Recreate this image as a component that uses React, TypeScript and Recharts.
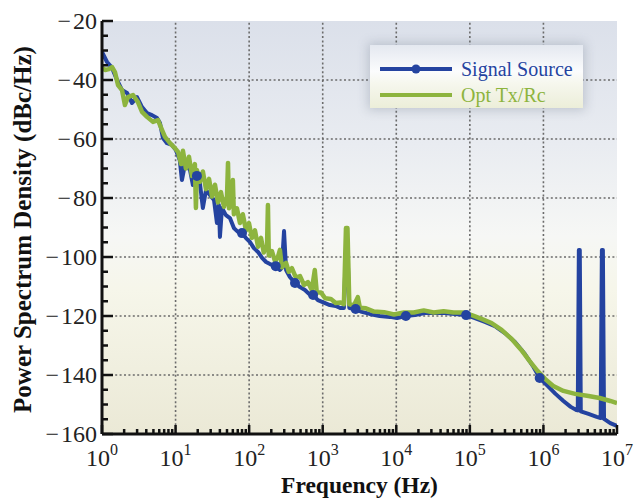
/**
 * Phase noise spectrum: signal source vs. optical Tx/Rc link.
 * Log frequency axis 1 Hz .. 10 MHz, PSD in dBc/Hz.
 */

import { LineChart, Line, XAxis, YAxis, CartesianGrid, ReferenceLine, Legend, Label } from 'recharts'

const BLUE = '#2443a0'
const GREEN = '#8db43e'
const SERIF = '"Liberation Serif", "Times New Roman", serif'

// Signal Source (blue) - frequency in Hz, PSD in dBc/Hz
const signalFreq = [
  1, 1.17, 1.37, 1.6, 1.87, 2.19, 2.56, 2.99, 3.5, 4.09, 4.78, 5.59, 6.14, 6.74, 7.64, 8.93,
  10.1, 11.4, 12.2, 13.4, 15.7, 17.2, 19.5, 21.4, 23.5, 25.9, 29.3, 33.3, 36.5, 38.8, 40.1, 42.7,
  48.3, 54.8, 62.1, 70.4, 80, 90.6, 102.7, 116, 132, 150, 170, 192, 230, 262, 278, 298, 318,
  358, 420, 492, 574, 650, 740, 860, 1000, 1250, 1500, 1750, 1940, 2070, 2170, 2300, 2800,
  3400, 4350, 5950, 8200, 10250, 13500, 17900, 24400, 33400, 45600, 62300, 89000, 117000,
  160000, 219000, 299000, 410000, 560000, 717000, 890000, 1.14e6, 1.46e6, 1.87e6, 2.35e6,
  2.8e6, 2.93e6, 3.03e6, 3.12e6, 3.22e6, 4.1e6, 5.3e6, 6.0e6, 6.23e6, 6.43e6, 6.66e6, 8.1e6, 1e7,
]
const signalPsd = [
  -30.5, -33.9, -35.9, -40.0, -43.4, -44.4, -47.8, -45.8, -49.2, -51.2, -51.9, -52.9, -54.6, -59.7, -61.4, -62.0,
  -63.7, -67.1, -73.9, -68.7, -70.5, -75.6, -72.5, -74.9, -83.4, -77.3, -79.0, -80.7, -88.5, -82.4, -93.2, -83.4,
  -85.8, -86.8, -90.2, -91.5, -91.9, -93.6, -94.9, -97.0, -98.3, -100.3, -101.7, -102.4, -103.1, -104.4, -103.7, -91.2, -104.4,
  -106.8, -108.8, -110.2, -111.2, -112.5, -112.9, -114.6, -115.3, -116.3, -116.6, -117.3, -117.3, -97.6, -97.6, -117.3, -117.6,
  -118.6, -119.3, -120.0, -120.3, -120.7, -120.0, -119.7, -119.0, -119.0, -119.0, -119.3, -119.7, -120.7,
  -122.0, -123.4, -125.8, -128.8, -132.9, -136.9, -141.0, -143.7, -146.4, -148.8, -150.8,
  -151.9, -152.0, -97.6, -97.6, -152.3, -153.2, -154.2, -154.6, -97.6, -97.6, -154.9, -156.3, -157.3,
]
// frequencies where the blue trace carries a marker
const markerFreq = [19.5, 80, 230, 420, 740, 2800, 13500, 89000, 890000]

// Opt Tx/Rc (green)
const optFreq = [
  1, 1.1, 1.24, 1.37, 1.5, 1.65, 1.87, 2.05, 2.25, 2.64, 3.08, 3.5, 4.09, 4.93, 5.77, 6.53, 7.18, 8.4, 9.8,
  10.8, 11.9, 12.6, 13.8, 15.2, 16.7, 18.3, 18.9, 19.5, 21.4, 23.5, 25.9, 28.5, 31.3, 34.3, 37.7, 41.4,
  45.5, 50, 51.6, 53.2, 58.4, 60.1, 62, 68.2, 75, 82, 90.6, 99.5, 109, 120, 132, 145, 158, 175, 180, 185,
  204, 225, 246, 262, 278, 318, 346, 381, 432, 492, 557, 630, 710, 780, 830, 945, 1080, 1290, 1500,
  1750, 1940, 2070, 2170, 2300, 2650, 3000, 3200, 3870, 4980, 6820, 9300, 12700, 17300, 23600, 32200,
  44000, 60000, 81000, 106000, 144000, 197000, 270000, 370000, 500000, 650000, 830000, 1.06e6, 1.36e6,
  1.87e6, 2.7e6, 4.1e6, 5.8e6, 8.1e6, 1e7,
]
const optPsd = [
  -35.9, -36.6, -36.3, -35.6, -37.3, -41.7, -43.4, -48.5, -45.8, -45.1, -47.5, -50.8, -52.5, -54.2, -53.6, -56.9, -59.3, -61.4, -63.1,
  -64.4, -68.5, -64.0, -70.0, -66.0, -72.5, -68.5, -83.4, -70.5, -74.5, -71.0, -77.0, -73.5, -79.5, -75.5, -81.5, -78.0,
  -83.0, -79.5, -68.1, -83.5, -81.0, -73.9, -85.5, -83.5, -88.5, -85.5, -91.0, -88.5, -93.5, -91.0, -96.5, -93.5, -98.5, -96.0, -82.4, -99.5,
  -98.0, -101.5, -100.0, -97.6, -103.5, -102.0, -105.0, -103.8, -107.0, -106.5, -109.5, -108.5, -111.2, -104.4, -112.0, -112.0, -114.0, -114.2, -115.6,
  -115.4, -116.0, -90.2, -90.2, -116.0, -116.4, -113.6, -117.2, -117.4, -118.5, -118.7, -119.5, -118.8, -118.8, -118.1, -118.8,
  -118.4, -118.8, -118.8, -119.7, -121.0, -122.4, -124.7, -127.8, -131.5, -135.3, -138.6, -141.4, -143.7,
  -145.4, -146.4, -147.1, -147.8, -148.8, -149.5,
]

// axis ticks
const decadeTicks = [1, 10, 100, 1e3, 1e4, 1e5, 1e6, 1e7]
const minorSteps = [2, 3, 4, 5, 6, 7, 8, 9]
const psdMajorTicks = [-160, -140, -120, -100, -80, -60, -40, -20]
const psdStep = 5

const freqTicks = [
  ...decadeTicks,
  ...decadeTicks.slice(0, -1).flatMap((d) => minorSteps.map((m) => m * d)),
]
const psdTicks: number[] = []
for (let v = -160; v <= -20; v += psdStep) psdTicks.push(v)

const signalData = signalFreq.map((f, i) => ({ f, psd: signalPsd[i], marker: markerFreq.includes(f) }))
const optData = optFreq.map((f, i) => ({ f, psd: optPsd[i] }))

const TICK_COLOR = '#111'

function BottomTick({ x, y, payload }: any) {
  const major = decadeTicks.includes(payload.value)
  return (
    <g>
      <line x1={x} x2={x} y1={y} y2={y - (major ? 9 : 5)} stroke={TICK_COLOR} strokeWidth={2.5} />
      {major && (
        <text x={x} y={y + 32} textAnchor="middle" fontFamily={SERIF} fontSize={24} fill="#222">
          10
          <tspan dy={-11} fontSize={16}>
            {Math.round(Math.log10(payload.value))}
          </tspan>
        </text>
      )}
    </g>
  )
}

function TopTick({ x, y, payload }: any) {
  const major = decadeTicks.includes(payload.value)
  return <line x1={x} x2={x} y1={y} y2={y + (major ? 9 : 5)} stroke={TICK_COLOR} strokeWidth={2.5} />
}

function LeftTick({ x, y, payload }: any) {
  const major = psdMajorTicks.includes(payload.value)
  return (
    <g>
      <line x1={x} x2={x + (major ? 11 : 6)} y1={y} y2={y} stroke={TICK_COLOR} strokeWidth={2.5} />
      {major && (
        <text x={x - 5} y={y + 8} textAnchor="end" fontFamily={SERIF} fontSize={24} fill="#222">
          {'\u2212\u200a' + Math.abs(payload.value)}
        </text>
      )}
    </g>
  )
}

function RightTick({ x, y, payload }: any) {
  const major = psdMajorTicks.includes(payload.value)
  return <line x1={x} x2={x - (major ? 11 : 6)} y1={y} y2={y} stroke={TICK_COLOR} strokeWidth={2.5} />
}

function YTitle({ viewBox }: any) {
  const cx = viewBox.x + 22
  const cy = viewBox.y + viewBox.height / 2 + 2
  return (
    <text
      x={cx}
      y={cy}
      transform={`rotate(-90 ${cx} ${cy})`}
      textAnchor="middle"
      dominantBaseline="central"
      fontFamily={SERIF}
      fontWeight="bold"
      fontSize={25}
      fill="#111"
    >
      Power Spectrum Density (dBc/Hz)
    </text>
  )
}

function LegendBox() {
  const row = (color: string, label: string, top: number, marker: boolean) => (
    <div style={{ position: 'absolute', left: 10, top, display: 'flex', alignItems: 'center' }}>
      <svg width={72} height={12}>
        <line x1={0} x2={72} y1={6} y2={6} stroke={color} strokeWidth={4} />
        {marker && <circle cx={36} cy={6} r={4.5} fill={color} />}
      </svg>
      <span style={{ marginLeft: 9, color, fontFamily: SERIF, fontSize: 20, lineHeight: '20px' }}>{label}</span>
    </div>
  )
  return (
    <div
      style={{
        position: 'relative',
        width: 213,
        height: 63,
        background: 'linear-gradient(#e4e8f0 0%, #fbfcfd 42%, #f6f7ee 60%, #eceed9 100%)',
        boxShadow: '0 0 10px 2px rgba(110,120,140,0.32)',
      }}
    >
      {row(BLUE, 'Signal Source', 14, true)}
      {row(GREEN, 'Opt Tx/Rc', 40, false)}
    </div>
  )
}

function SignalDot(p: any) {
  if (!p.payload.marker) return <g key={`d${p.index}`} />
  return <circle key={`d${p.index}`} cx={p.cx} cy={p.cy} r={5} fill={BLUE} />
}

export default function App() {
  return (
    <div style={{ position: 'absolute', left: 0, top: 0, width: 634, height: 498, background: '#fff' }}>
      <LineChart width={634} height={498} margin={{ top: 21, right: 17, bottom: 0, left: 0 }}>
        <defs>
          <linearGradient id="plotBg" x1="0" y1="0" x2="0" y2="1">
            <stop offset="0%" stopColor="#dbe0ea" />
            <stop offset="30%" stopColor="#e9ecf1" />
            <stop offset="52%" stopColor="#f6f7f5" />
            <stop offset="65%" stopColor="#f6f6ea" />
            <stop offset="100%" stopColor="#ebe9d6" />
          </linearGradient>
        </defs>
        <CartesianGrid horizontal={false} vertical={false} fill="url(#plotBg)" />
        <XAxis
          dataKey="f"
          type="number"
          scale="log"
          domain={[1, 1e7]}
          ticks={freqTicks}
          interval={0}
          height={64}
          tickSize={0}
          tickMargin={0}
          tickLine={false}
          tick={<BottomTick />}
          axisLine={{ stroke: TICK_COLOR, strokeWidth: 3 }}
          allowDataOverflow
        >
          <Label
            value="Frequency (Hz)"
            position="insideBottom"
            offset={5}
            style={{ fontFamily: SERIF, fontWeight: 'bold', fontSize: 23.5, fill: '#111' }}
          />
        </XAxis>
        <XAxis
          xAxisId="top"
          orientation="top"
          type="number"
          scale="log"
          domain={[1, 1e7]}
          ticks={freqTicks}
          interval={0}
          height={0}
          tickSize={0}
          tickMargin={0}
          tickLine={false}
          tick={<TopTick />}
          axisLine={{ stroke: '#222', strokeWidth: 2.5 }}
          allowDataOverflow
        />
        <YAxis
          type="number"
          domain={[-160, -20]}
          ticks={psdTicks}
          interval={0}
          width={102}
          tickSize={0}
          tickMargin={0}
          tickLine={false}
          tick={<LeftTick />}
          axisLine={{ stroke: TICK_COLOR, strokeWidth: 3 }}
          allowDataOverflow
          label={<YTitle />}
        />
        <YAxis
          yAxisId="right"
          orientation="right"
          type="number"
          domain={[-160, -20]}
          ticks={psdTicks}
          interval={0}
          width={0}
          tickSize={0}
          tickMargin={0}
          tickLine={false}
          tick={<RightTick />}
          axisLine={{ stroke: TICK_COLOR, strokeWidth: 2.5 }}
          allowDataOverflow
        />
        {decadeTicks.slice(1, -1).map((d) => (
          <ReferenceLine key={`v${d}`} x={d} stroke="#6b6b6b" strokeWidth={1.6} strokeDasharray="2 2.4" />
        ))}
        {psdMajorTicks.slice(1, -1).map((v) => (
          <ReferenceLine key={`h${v}`} y={v} stroke="#6b6b6b" strokeWidth={1.6} strokeDasharray="2 2.4" />
        ))}
        <Line
          data={signalData}
          dataKey="psd"
          name="Signal Source"
          stroke={BLUE}
          strokeWidth={4}
          strokeLinejoin="round"
          dot={SignalDot}
          activeDot={false}
          isAnimationActive={false}
        />
        <Line
          data={optData}
          dataKey="psd"
          name="Opt Tx/Rc"
          stroke={GREEN}
          strokeWidth={4.5}
          strokeLinejoin="round"
          dot={false}
          activeDot={false}
          isAnimationActive={false}
        />
        <Legend
          layout="vertical"
          verticalAlign="middle"
          align="center"
          content={<LegendBox />}
          wrapperStyle={{ left: 370, top: 45, width: 213, height: 63 }}
        />
      </LineChart>
    </div>
  )
}
